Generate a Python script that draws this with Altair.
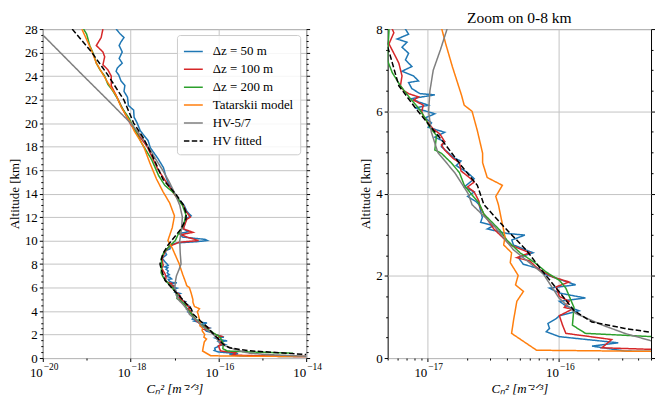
import altair as alt
import pandas as pd

FONT = "Liberation Serif"

# ---------------- data (altitude in km, log10 of Cn2) ----------------
alt_50 = [28.0, 27.6, 27.28, 26.9, 26.6, 26.05, 25.5, 25.1, 24.7, 24.4, 24.1, 23.6, 23.2, 22.7, 22.2, 21.5,
          21.1, 20.5, 20.0, 19.35, 18.5, 17.9, 17.0, 16.2, 15.5, 14.97, 14.5, 13.6, 13.0, 12.5, 12.1, 11.9,
          11.5, 11.0, 10.75, 10.6, 10.3, 10.1, 10.0, 9.9, 9.8, 9.6, 9.3, 9.1, 8.8, 8.5, 8.2,
          8.0, 7.875, 7.758, 7.68, 7.56, 7.41, 7.25, 7.09, 6.975, 6.86, 6.74, 6.70, 6.55, 6.43, 6.40, 6.31,
          6.23, 6.15, 6.08, 5.94, 5.84, 5.72, 5.61, 5.49, 5.37, 5.26, 5.14, 4.86, 4.79, 4.68, 4.51, 4.36,
          4.16, 4.04, 3.93, 3.81, 3.73, 3.42, 3.30, 3.22, 3.14, 3.03, 2.99, 2.87, 2.75, 2.56, 2.44, 2.28,
          2.17, 2.05, 1.97, 1.78, 1.70, 1.58, 1.46, 1.38, 1.27, 1.15, 1.03, 0.955, 0.84, 0.72, 0.64, 0.52,
          0.37, 0.29, 0.17, 0.12]
log_50 = [-18.33, -18.24, -18.15, -18.22, -18.26, -18.19, -18.26, -18.19, -18.30, -18.33, -18.27, -18.22,
          -18.13, -18.15, -18.07, -18.05, -17.93, -17.92, -17.85, -17.78, -17.60, -17.55, -17.38, -17.25,
          -17.20, -17.15, -17.08, -16.93, -16.78, -16.72, -16.62, -16.72, -16.76, -16.80, -16.68, -16.88,
          -16.82, -16.30, -16.25, -16.50, -16.95, -17.10, -17.10, -17.22, -17.18, -17.28, -17.22,
          -17.166, -17.142, -17.229, -17.154, -17.192, -17.142, -17.166, -17.117, -17.192, -17.104,
          -17.067, -17.142, -17.117, -17.055, -16.943, -17.117, -17.067, -16.993, -17.092, -16.943,
          -17.017, -16.968, -16.993, -16.868, -16.943, -16.868, -16.893, -16.793, -16.744, -16.781,
          -16.694, -16.644, -16.719, -16.644, -16.694, -16.632, -16.607, -16.582, -16.595, -16.495,
          -16.545, -16.396, -16.259, -16.358, -16.346, -16.197, -16.308, -16.271, -16.147, -16.122,
          -16.047, -15.873, -16.072, -15.997, -15.799, -15.997, -15.948, -15.848, -15.997, -16.022,
          -16.084, -16.072, -16.097, -15.997, -15.55, -15.749, -15.5, -14.0]

alt_100 = [28.0, 27.28, 26.6, 26.05, 25.64, 24.96, 24.55, 24.0, 23.18, 22.36, 21.26, 19.9, 17.98, 16.07,
           14.15, 13.5, 13.0, 12.5, 12.0, 11.8, 11.0, 10.7, 10.5, 10.3, 10.0, 9.85, 9.5, 9.0, 8.5,
           8.0, 7.91, 7.64, 7.33, 7.17, 6.86, 6.62, 6.505, 6.43, 6.35, 6.27, 6.15, 6.0, 5.88, 5.72, 5.57,
           5.45, 5.33, 5.26, 5.18, 5.06, 4.86, 4.75, 4.55, 4.36, 4.28, 4.16, 4.04, 3.81,
           3.73, 3.50, 3.14, 2.95, 2.75, 2.56, 2.44, 2.36, 2.17, 1.97, 1.85, 1.73, 1.50, 1.38, 1.23, 1.19,
           1.03, 0.80, 0.60, 0.45, 0.25, 0.21, 0.12]
log_100 = [-18.63, -18.67, -18.78, -18.63, -18.59, -18.63, -18.52, -18.44, -18.44, -18.33, -18.19, -18.0,
           -17.62, -17.38, -17.04, -16.92, -16.80, -16.74, -16.64, -16.72, -16.80, -16.58, -16.85, -16.72,
           -16.45, -16.90, -17.12, -17.22, -17.28,
           -17.266, -17.254, -17.291, -17.241, -17.216, -17.192, -17.204, -17.179, -17.142, -17.067,
           -17.104, -17.030, -17.042, -17.030, -16.993, -16.955, -16.905, -16.881, -16.868, -16.893,
           -16.868, -16.806, -16.756, -16.744, -16.669, -16.644, -16.694, -16.644, -16.607,
           -16.607, -16.570, -16.495, -16.433, -16.371, -16.222, -16.321, -16.222, -16.159, -16.047,
           -15.923, -16.022, -15.997, -15.923, -15.960, -15.898, -15.997, -15.973, -15.948, -15.6,
           -15.674, -15.29, -14.0]

alt_200 = [28.0, 27.56, 26.6, 25.92, 25.1, 24.55, 24.0, 23.32, 22.77, 22.09, 21.26, 20.44, 19.35, 18.25,
           16.89, 15.52, 14.7, 14.0, 13.0, 12.2, 11.5, 11.0, 10.5, 10.0, 9.5, 9.0, 8.5,
           7.95, 7.25, 6.94, 6.62, 6.31, 6.08, 5.84, 5.61, 5.41, 5.06, 4.98, 4.75, 4.51, 4.20, 4.0, 3.77,
           3.50, 3.10, 2.87, 2.56, 2.32, 2.09, 1.89, 1.70, 1.23, 0.80, 0.60, 0.52, 0.41]
log_200 = [-19.07, -19.0, -18.93, -18.85, -18.78, -18.70, -18.59, -18.52, -18.41, -18.30, -18.19, -18.04,
           -17.89, -17.74, -17.52, -17.36, -17.22, -17.0, -16.82, -16.74, -16.78, -16.84, -16.92, -16.98,
           -17.12, -17.24, -17.30,
           -17.291, -17.304, -17.266, -17.204, -17.129, -17.067, -17.017, -16.980, -16.930, -16.943,
           -16.893, -16.819, -16.756, -16.719, -16.669, -16.607,
           -16.57, -16.446, -16.396, -16.296, -16.184, -16.097, -15.997, -15.948, -15.886, -15.898,
           -15.799, -15.289, -14.3]

alt_tat = [28.0, 26.2, 25.1, 23.45, 22.36, 21.4, 20.7, 20.03, 19.35, 18.5, 17.98, 16.6, 15.24, 14.15, 13.2,
           12.1, 11.1, 10.0, 9.36, 8.5, 8.0, 7.64, 7.09, 6.39, 6.15, 6.0, 5.53, 4.98, 4.75, 4.39, 4.2, 3.93,
           3.73, 3.26, 2.95, 2.75, 2.56, 2.32, 2.01, 1.78, 1.62, 1.38, 0.92, 0.60, 0.19, 0.12]
log_tat = [-19.11, -18.89, -18.78, -18.52, -18.33, -18.22, -18.11, -18.0, -17.92, -17.78, -17.70, -17.56,
           -17.41, -17.26, -17.11, -17.0, -17.05, -17.15, -17.05, -16.95, -16.89, -16.86, -16.81, -16.74,
           -16.72, -16.66, -16.62, -16.58, -16.58, -16.545, -16.43, -16.48, -16.46, -16.43, -16.41, -16.42,
           -16.36, -16.37, -16.31, -16.33, -16.27, -16.32, -16.345, -16.36, -16.17, -14.0]

alt_hv57 = [28.0, 27.5, 24.0, 22.0, 20.0, 19.0, 18.0, 17.0, 16.0, 15.0, 14.0, 13.0, 12.0, 11.0, 10.0, 9.0,
            8.0, 7.5, 7.0, 6.5, 6.0, 5.5, 5.0, 4.5, 4.0, 3.73, 3.2, 2.63, 2.05, 1.46, 1.08, 0.8, 0.6, 0.41,
            0.3, 0.2, 0.15]
log_hv57 = [-20.15, -20.0, -19.07, -18.53, -18.0, -17.78, -17.6, -17.44, -17.27, -17.12, -16.99, -16.88,
            -16.82, -16.84, -16.88, -16.87, -16.85, -16.90, -16.955, -16.98, -16.99, -16.97, -16.92, -16.79,
            -16.69, -16.66, -16.49, -16.345, -16.12, -16.0, -15.87, -15.67, -15.5, -15.29, -14.9, -14.3,
            -14.0]

alt_hvfit = [28.0, 26.05, 24.1, 21.95, 20.0, 18.8, 17.2, 15.2, 13.9, 13.05, 12.3, 11.8, 11.0, 10.3, 9.6,
             8.9, 8.0, 7.56, 7.0, 6.62, 6.08, 5.68, 5.22, 4.67, 4.2, 3.73, 3.2, 2.63, 2.09, 1.62, 1.15,
             0.875, 0.72, 0.62, 0.45, 0.3]
log_hvfit = [-19.33, -18.89, -18.52, -18.15, -17.93, -17.72, -17.50, -17.26, -16.96, -16.80, -16.73,
             -16.74, -16.85, -17.0, -17.15, -17.26, -17.33, -17.30, -17.25, -17.216, -17.09, -16.99,
             -16.87, -16.74, -16.62, -16.57, -16.42, -16.25, -16.12, -16.0, -15.885, -15.75, -15.5,
             -15.29, -14.6, -14.0]

series_names = ["Δz = 50 m", "Δz = 100 m", "Δz = 200 m", "Tatarskii model", "HV-5/7", "HV fitted"]
series_colors = ["#1f77b4", "#d62728", "#2ca02c", "#ff7f0e", "#7f7f7f", "#000000"]
series_dashes = [[1, 0], [1, 0], [1, 0], [1, 0], [1, 0], [5.5, 2.4]]
series_alts = [alt_50, alt_100, alt_200, alt_tat, alt_hv57, alt_hvfit]
series_logs = [log_50, log_100, log_200, log_tat, log_hv57, log_hvfit]

left_y_ticks = [i * 0.5 for i in range(57)]
right_y_ticks = [i * 0.5 for i in range(17)]
left_x_ticks = [10.0 ** e for e in range(-20, -13)]
left_x_major = [1e-20, 1e-18, 1e-16, 1e-14]
right_x_ticks = ([m * 1e-18 for m in (5, 6, 7, 8, 9)] + [m * 1e-17 for m in range(1, 10)]
                 + [m * 1e-16 for m in (1, 2, 3, 4, 5)])
right_x_major = [1e-17, 1e-16]

rows = []
for name, hs, ls in zip(series_names, series_alts, series_logs):
    for i, (h, e) in enumerate(zip(hs, ls)):
        rows.append({"series": name, "alt": h, "cn2": 10.0 ** e, "idx": i})
df = pd.DataFrame(rows)

# ---------------- helpers ----------------
EXP = "abs(round(log(datum.value)/LN10))"
LEFT_X_MAJOR = f"{EXP} % 2 == 0"
RIGHT_X_MAJOR = "abs(log(datum.value)/LN10 - round(log(datum.value)/LN10)) < 0.001"
Y_MAJOR = "datum.value % 2 == 0"

W, H = 265, 331


def cond(test, a, b):
    return {"condition": {"test": test, "value": a}, "value": b}


def panel(xdom, ydom, xvals, xmajor_vals, yvals, xmajor, title=None):
    xscale = alt.Scale(type="log", domain=xdom, nice=False)
    yscale = alt.Scale(domain=ydom, nice=False, zero=False)
    cscale = alt.Scale(domain=series_names, range=series_colors)
    dscale = alt.Scale(domain=series_names, range=series_dashes)
    legend = alt.Legend(title=None, orient="none", legendX=W - 6 - 124, legendY=6)
    # main axis: mantissa "10"
    xaxis = alt.Axis(orient="bottom", values=xvals, labelExpr=f"({xmajor}) ? '10' : ''",
                     labelAlign="right", labelOffset=-0.5, labelPadding=5,
                     tickSize=cond(xmajor, 3.5, 2), gridOpacity=cond(xmajor, 1, 0),
                     title="Cₙ² [m⁻²ᐟ³]", titleFontStyle="italic", labelFlush=False, titlePadding=3)
    # exponent axis: "−20" etc. raised and smaller
    expaxis = alt.Axis(orient="bottom", values=xmajor_vals, labelExpr=f"'−' + format({EXP}, 'd')",
                       labelAlign="left", labelOffset=0.5, labelPadding=3.5, labelFontSize=9.5,
                       ticks=False, grid=False, title=None, labelFlush=False)
    yaxis = alt.Axis(orient="left", values=yvals,
                     labelExpr=f"({Y_MAJOR}) ? format(datum.value, 'd') : ''",
                     tickSize=cond(Y_MAJOR, 3.5, 2), gridOpacity=cond(Y_MAJOR, 1, 0),
                     title="Altitude [km]", labelFlush=False)
    layers = []
    base = alt.Chart(df)
    for k, name in enumerate(series_names):
        layers.append(
            base.transform_filter(alt.datum.series == name)
            .mark_line(strokeWidth=1.5, clip=True)
            .encode(
                x=alt.X("cn2:Q", scale=xscale, axis=xaxis if k == 0 else None),
                y=alt.Y("alt:Q", scale=yscale, axis=yaxis if k == 0 else None),
                color=alt.Color("series:N", scale=cscale, legend=legend),
                strokeDash=alt.StrokeDash("series:N", scale=dscale, legend=legend),
                order=alt.Order("idx:Q"),
            )
        )
    mirror = base.mark_line(opacity=0, clip=True).encode(
        x=alt.X("cn2:Q", scale=xscale, axis=expaxis),
        y=alt.Y("alt:Q", scale=yscale,
                axis=alt.Axis(orient="right", values=yvals, labels=False, grid=False,
                              tickSize=cond(Y_MAJOR, 3.5, 2), title=None)),
        detail="series:N",
        order=alt.Order("idx:Q"),
    )
    ch = alt.layer(*layers, mirror).resolve_axis(x="independent", y="independent")
    props = dict(width=W, height=H)
    if title:
        props["title"] = alt.TitleParams(title, font=FONT, fontSize=15.6, fontWeight="normal",
                                         anchor="middle", offset=-3, color="black", frame="group")
    return ch.properties(**props)


left = panel([1e-20, 1e-14], [0, 28], left_x_ticks, left_x_major, left_y_ticks, LEFT_X_MAJOR)
right = panel([5e-18, 5e-16], [0, 8], right_x_ticks, right_x_major, right_y_ticks, RIGHT_X_MAJOR,
              "Zoom on 0-8 km")

chart = (
    alt.hconcat(left, right, spacing=82, bounds="flush")
    .properties(padding={"left": 0, "top": 0, "right": 0, "bottom": 0})
    .configure_view(stroke="black", strokeWidth=1)
    .configure_axis(labelFont=FONT, labelFontSize=13, titleFont=FONT, titleFontSize=13,
                    titleFontWeight="normal", labelColor="black", titleColor="black",
                    tickColor="black", domain=False, gridColor="#c4c4c4", gridWidth=1,
                    labelPadding=2, titlePadding=3)
    .configure_legend(labelFont=FONT, labelFontSize=13, labelColor="black", symbolType="stroke",
                      symbolSize=360, symbolStrokeWidth=1.5, labelOffset=9, padding=6,
                      rowPadding=0, strokeColor="#cccccc", fillColor="rgba(255,255,255,0.85)",
                      cornerRadius=3, labelLimit=300)
)

chart.save("out.html", embed_options={"renderer": "svg", "actions": False})
